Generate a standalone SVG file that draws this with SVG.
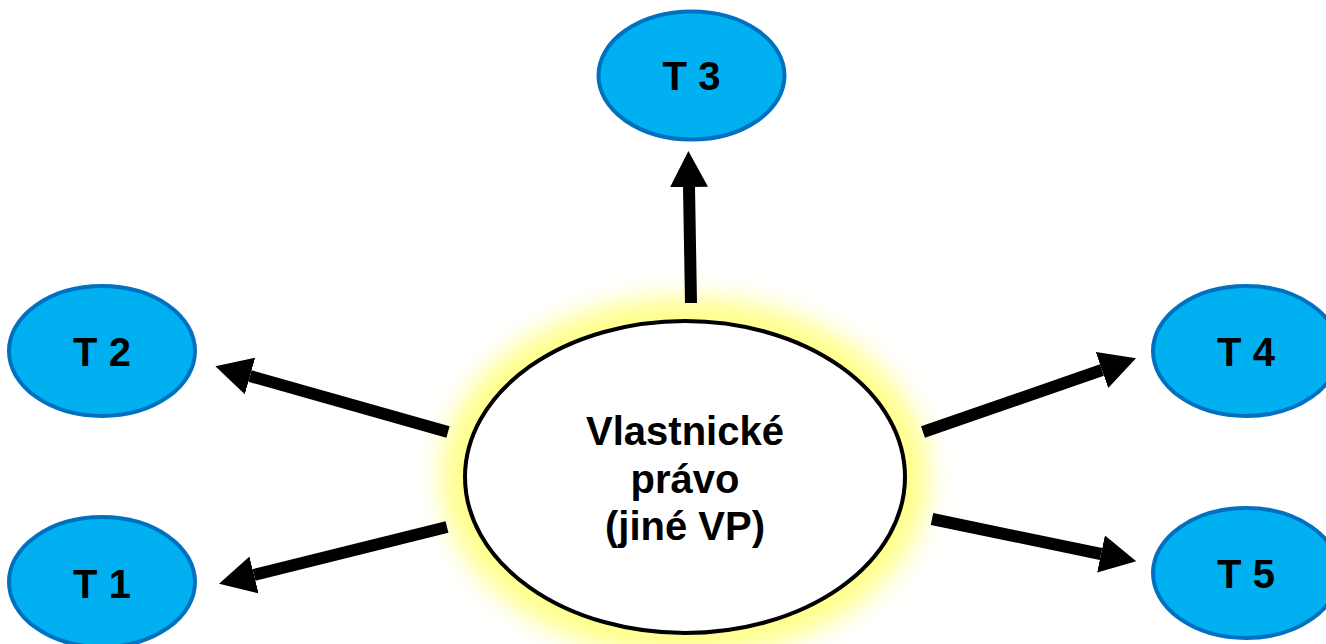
<svg xmlns="http://www.w3.org/2000/svg" width="1326" height="644" viewBox="0 0 1326 644">
  <style>
    .node ellipse { fill: #00B0F0; stroke: #0070C0; stroke-width: 4; }
    .lbl { font-family: "Liberation Sans", Arial, sans-serif; font-weight: bold; font-size: 40px; fill: #000; text-anchor: middle; }
    .conn line { stroke: #000; stroke-width: 12; stroke-linecap: butt; marker-end: url(#head); }
  </style>
  <defs>
    <marker id="head" markerUnits="userSpaceOnUse" markerWidth="36" markerHeight="38" refX="0" refY="19" orient="auto">
      <path d="M0,0 L36,19 L0,38 z" fill="#000"/>
    </marker>
    <filter id="glow" x="-30%" y="-30%" width="160%" height="160%">
      <feGaussianBlur stdDeviation="12"/>
    </filter>
  </defs>
  <rect width="1326" height="644" fill="#fff"/>

  <ellipse cx="685" cy="477" rx="244" ry="180" fill="#FFFF8C" filter="url(#glow)"/>

  <g class="conn" id="connectors">
    <line x1="691" y1="303" x2="689" y2="187"/>
    <line x1="448" y1="432" x2="250" y2="376"/>
    <line x1="447" y1="527" x2="254" y2="575"/>
    <line x1="923" y1="432" x2="1102" y2="370"/>
    <line x1="932" y1="519" x2="1101" y2="554"/>
  </g>

  <g id="center">
    <ellipse cx="685" cy="477" rx="220" ry="156" fill="#fff" stroke="#000" stroke-width="4"/>
    <text class="lbl" x="685" y="445">Vlastnické</text>
    <text class="lbl" x="685" y="493">právo</text>
    <text class="lbl" x="685" y="540">(jiné VP)</text>
  </g>

  <g class="node" id="t3">
    <ellipse cx="691.5" cy="75.5" rx="93" ry="64"/>
    <text class="lbl" x="691.5" y="90">T 3</text>
  </g>
  <g class="node" id="t2">
    <ellipse cx="102" cy="351" rx="93" ry="65"/>
    <text class="lbl" x="102" y="366">T 2</text>
  </g>
  <g class="node" id="t1">
    <ellipse cx="102" cy="582" rx="93" ry="65"/>
    <text class="lbl" x="102" y="598">T 1</text>
  </g>
  <g class="node" id="t4">
    <ellipse cx="1246" cy="351" rx="93" ry="65"/>
    <text class="lbl" x="1246" y="366">T 4</text>
  </g>
  <g class="node" id="t5">
    <ellipse cx="1246" cy="573" rx="93" ry="65"/>
    <text class="lbl" x="1246" y="588">T 5</text>
  </g>
</svg>
